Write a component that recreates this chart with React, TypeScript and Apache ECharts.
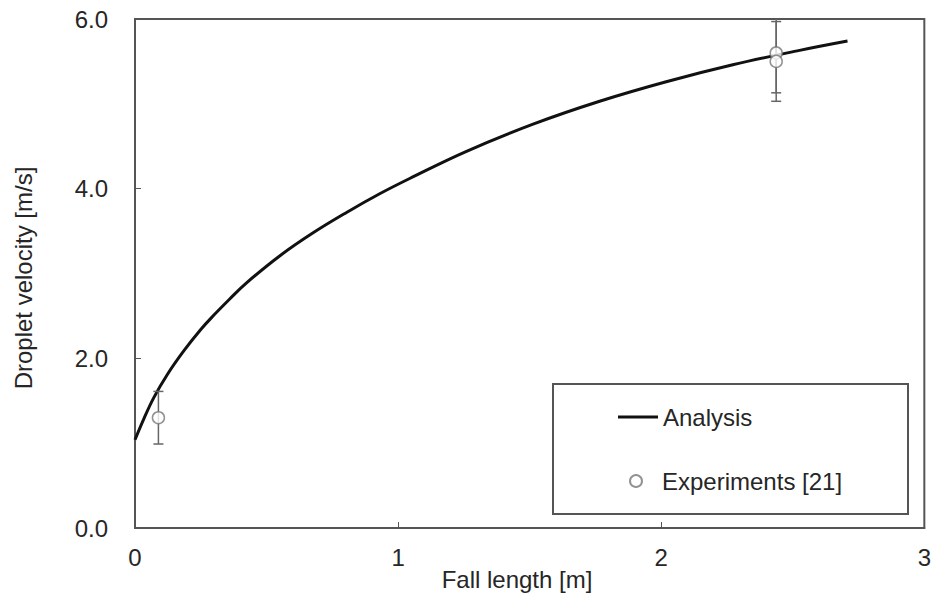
import React, { useEffect, useRef } from "react";
import * as echarts from "echarts";

// Analysis curve (fall length [m], droplet velocity [m/s])
const analysisX = [0, 0.034, 0.072, 0.123, 0.186, 0.25, 0.3, 0.36, 0.424, 0.551, 0.677, 0.804, 0.93, 1.044, 1.26, 1.513, 1.766, 2.019, 2.272, 2.526, 2.708];
const analysisY = [1.04, 1.29, 1.54, 1.81, 2.09, 2.34, 2.51, 2.7, 2.89, 3.21, 3.48, 3.72, 3.94, 4.12, 4.44, 4.76, 5.03, 5.26, 5.46, 5.63, 5.74];

// Experiments [21]
const expX = [0.089, 2.437, 2.437];
const expY = [1.3, 5.6, 5.5];
const expErr = [0.31, 0.47, 0.47];

const xTicks = [0, 1, 2, 3];
const yTickLabels = ["0.0", "2.0", "4.0", "6.0"];

const FONT = "'Liberation Sans', Arial, sans-serif";
const TXT = "#262626";
const FS = 24;

export default function App() {
  const ref = useRef<HTMLDivElement>(null);
  useEffect(() => {
    if (!ref.current) return;
    const chart = echarts.init(ref.current, undefined, { renderer: "svg" });
    const lineData = analysisX.map((x, i) => [x, analysisY[i]]);
    const expData = expX.map((x, i) => [x, expY[i]]);
    const errData = expX.map((x, i) => [x, expY[i] - expErr[i], expY[i] + expErr[i]]);
    chart.setOption({
      animation: false,
      backgroundColor: "#fff",
      textStyle: { fontFamily: FONT },
      grid: {
        left: 135, top: 19, right: 9, bottom: 71,
        show: true, borderColor: "#555", borderWidth: 2, backgroundColor: "transparent",
      },
      xAxis: {
        type: "value", min: xTicks[0], max: xTicks[xTicks.length - 1], interval: 1,
        axisLine: { show: true, lineStyle: { color: "#555", width: 2 } },
        axisTick: { show: true, inside: true, length: 6, lineStyle: { color: "#555" } },
        splitLine: { show: false },
        axisLabel: { fontSize: FS, color: TXT, margin: 17, fontFamily: FONT },
      },
      yAxis: {
        type: "value", min: 0, max: 6, interval: 2,
        axisLine: { show: true, lineStyle: { color: "#555", width: 2 } },
        axisTick: { show: true, inside: true, length: 6, lineStyle: { color: "#555" } },
        splitLine: { show: false },
        axisLabel: {
          fontSize: FS, color: TXT, margin: 27, fontFamily: FONT,
          formatter: (v: number) => yTickLabels[Math.round(v / 2)] ?? v.toFixed(1),
        },
      },
      legend: [
        {
          data: [{ name: "Analysis", icon: "rect" }], left: 618, top: 405, padding: 0,
          itemWidth: 40, itemHeight: 3, itemStyle: { color: "#111" },
          textStyle: { fontSize: FS, color: TXT, fontFamily: FONT }, z: 10,
        },
        {
          data: ["Experiments [21]"], left: 629, top: 469, padding: 0, itemWidth: 42, itemHeight: 12,
          textStyle: { fontSize: FS, color: TXT, fontFamily: FONT }, z: 10,
        },
      ],
      graphic: [
        {
          type: "rect", z: 5, shape: { x: 553, y: 384, width: 355, height: 130 },
          style: { fill: "#fff", stroke: "#555", lineWidth: 2 },
        },
        {
          type: "text", x: 517, y: 579,
          style: { text: "Fall length [m]", font: `${FS}px ${FONT}`, fill: TXT, align: "center", verticalAlign: "middle" },
        },
        {
          type: "text", x: 23, y: 278, rotation: Math.PI / 2,
          style: { text: "Droplet velocity [m/s]", font: `${FS}px ${FONT}`, fill: TXT, align: "center", verticalAlign: "middle" },
        },
      ],
      series: [
        {
          name: "Analysis", type: "line", data: lineData, smooth: 0.4, symbol: "none",
          lineStyle: { color: "#111", width: 3 }, itemStyle: { color: "#111" }, z: 3,
        },
        {
          name: "errors", type: "custom", data: errData, clip: true, z: 4,
          renderItem: (params: any, api: any) => {
            const x = api.value(0);
            const lo = api.coord([x, api.value(1)]);
            const hi = api.coord([x, api.value(2)]);
            const c = 5;
            const st = { stroke: "#666", lineWidth: 1.5 };
            return {
              type: "group",
              children: [
                { type: "line", shape: { x1: lo[0], y1: lo[1], x2: hi[0], y2: hi[1] }, style: st },
                { type: "line", shape: { x1: lo[0] - c, y1: lo[1], x2: lo[0] + c, y2: lo[1] }, style: st },
                { type: "line", shape: { x1: hi[0] - c, y1: hi[1], x2: hi[0] + c, y2: hi[1] }, style: st },
              ],
            };
          },
        },
        {
          name: "Experiments [21]", type: "scatter", data: expData, symbol: "circle", symbolSize: 12,
          itemStyle: { color: "#fff", borderColor: "#777", borderWidth: 1.5 }, z: 6,
        },
      ],
    });
    return () => chart.dispose();
  }, []);
  return <div ref={ref} style={{ position: "fixed", left: 0, top: 0, width: 934, height: 599 }} />;
}
